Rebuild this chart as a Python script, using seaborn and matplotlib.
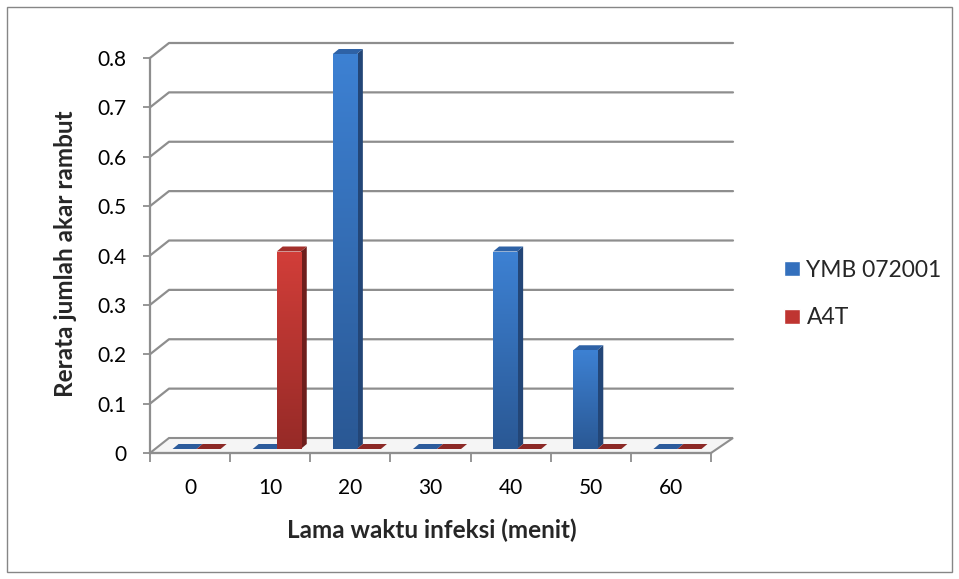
import numpy as np
import pandas as pd
import matplotlib
matplotlib.use("Agg")
import matplotlib.pyplot as plt
import seaborn as sns
from matplotlib.patches import Polygon, Rectangle
from matplotlib.transforms import IdentityTransform, ScaledTranslation
from matplotlib.colors import LinearSegmentedColormap

# ---- data ----
categories = ["0", "10", "20", "30", "40", "50", "60"]
series_names = ["YMB 072001", "A4T"]
ymb_values = [0, 0, 0.8, 0, 0.4, 0.2, 0]
a4t_values = [0, 0.4, 0, 0, 0, 0, 0]
y_ticks = [0, 0.1, 0.2, 0.3, 0.4, 0.5, 0.6, 0.7, 0.8]
y_tick_labels = ["0", "0.1", "0.2", "0.3", "0.4", "0.5", "0.6", "0.7", "0.8"]
x_title = "Lama waktu infeksi (menit)"
y_title = "Rerata jumlah akar rambut"

# ---- style ----
sns.set_theme(style="white")
plt.rcParams["font.family"] = ["Lato", "DejaVu Sans"]

W, H = 959, 579
def fx(px):
    return px / W
def fy(py):
    return 1 - py / H

BLUE = "#3470bd"
RED = "#bf3531"
colors = {
    "YMB 072001": dict(front=("#2a5894", "#3d81d3"), side="#234677", top="#2e62a6", flat="#2d5c9c"),
    "A4T": dict(front=("#962a27", "#d23e39"), side="#6e1e1c", top="#a32f2b", flat="#8c2926"),
}
GRID = "#8e8e8e"
TICK_FS = 15
TITLE_FS = 17.5
LEG_FS = 16.5

fig = plt.figure(figsize=(9.59, 5.79), dpi=100)
ax = fig.add_axes([fx(150), fy(453), 561 / W, (453 - 58) / H])

df = pd.DataFrame({
    "cat": categories * 2,
    "val": ymb_values + a4t_values,
    "series": [series_names[0]] * len(categories) + [series_names[1]] * len(categories),
})
sns.barplot(data=df, x="cat", y="val", hue="series", order=categories,
            hue_order=series_names, palette=[BLUE, RED], width=0.6,
            ax=ax, legend=False, errorbar=None)
ax.set_xlim(-0.5, 6.5)
ax.set_ylim(0, 0.8)
ax.set_xlabel("")
ax.set_ylabel("")

n_cat = len(categories)
seaborn_bars = list(ax.patches)
bar_series = {id(p): (series_names[0] if i < n_cat else series_names[1])
              for i, p in enumerate(seaborn_bars)}
bars = sorted(seaborn_bars, key=lambda p: p.get_x())

ident = IdentityTransform()
T = ax.transData

# back wall / floor geometry (pixels, display coords)
DL = (19, 15)   # depth vector at left
DR = (22, 15)   # depth vector at right
xl, y0 = T.transform((-0.5, 0))
xr, _ = T.transform((6.5, 0))

floor = Polygon([(xl, y0), (xr, y0), (xr + DR[0], y0 + DR[1]), (xl + DL[0], y0 + DL[1])],
                closed=True, transform=ident, facecolor="#f5f5f5", edgecolor=GRID,
                lw=1.5, zorder=1, clip_on=False)
ax.add_patch(floor)

for v in y_ticks[1:]:
    _, yv = T.transform((0, v))
    ax.add_line(plt.Line2D([xl, xl + DL[0], xr + DR[0]], [yv, yv + DL[1], yv + DR[1]],
                           transform=ident, color=GRID, lw=1.6, zorder=1, clip_on=False))

# ---- 3D bars built from seaborn's bars ----
OFF = (6.5, 4.0)
DEP = (6.0, 5.0)
off_tr = T + ScaledTranslation(OFF[0] / 100, OFF[1] / 100, fig.dpi_scale_trans)

z = 5
for p in bars:
    c = colors[bar_series[id(p)]]
    x0, w, h = p.get_x(), p.get_width(), p.get_height()
    X0, Y0 = T.transform((x0, 0))
    X1, Y1 = T.transform((x0 + w, h))
    X0 += OFF[0]; X1 += OFF[0]; Y0 += OFF[1]; Y1 += OFF[1]
    if h <= 0:
        p.set_visible(False)
        ax.add_patch(Polygon([(X0, Y0), (X1, Y0), (X1 + DEP[0], Y0 + DEP[1]), (X0 + DEP[0], Y0 + DEP[1])],
                             transform=ident, facecolor=c["flat"], edgecolor="none",
                             zorder=z, clip_on=False))
        z += 1
        continue
    ax.add_patch(Polygon([(X1, Y0), (X1 + DEP[0], Y0 + DEP[1]), (X1 + DEP[0], Y1 + DEP[1]), (X1, Y1)],
                         transform=ident, facecolor=c["side"], edgecolor="none", zorder=z, clip_on=False))
    ax.add_patch(Polygon([(X0, Y1), (X1, Y1), (X1 + DEP[0], Y1 + DEP[1]), (X0 + DEP[0], Y1 + DEP[1])],
                         transform=ident, facecolor=c["top"], edgecolor="none", zorder=z, clip_on=False))
    p.set_transform(off_tr)
    p.set_zorder(z + 0.5)
    p.set_edgecolor("none")
    p.set_clip_on(False)
    cmap = LinearSegmentedColormap.from_list("g", list(c["front"]))
    im = ax.imshow(np.linspace(1, 0, 256).reshape(-1, 1), cmap=cmap, vmin=0, vmax=1,
                   extent=(x0, x0 + w, 0, h), origin="upper", aspect="auto",
                   interpolation="bilinear", transform=off_tr, zorder=z + 0.6)
    im.set_clip_path(p)
    z += 1

ax.set_xlim(-0.5, 6.5)
ax.set_ylim(0, 0.8)

# ---- axes, ticks ----
for s in ["top", "right"]:
    ax.spines[s].set_visible(False)
for s in ["left", "bottom"]:
    ax.spines[s].set_color(GRID)
    ax.spines[s].set_linewidth(1.6)
    ax.spines[s].set_zorder(2)

ax.set_yticks(y_ticks, y_tick_labels)
ax.tick_params(axis="y", left=True, length=5, width=1.3, color=GRID, pad=12,
               labelsize=TICK_FS, labelcolor="black")
ax.set_xticks(range(n_cat), categories)
ax.set_xticks(np.arange(-0.5, n_cat, 1.0), minor=True)
ax.tick_params(axis="x", which="major", bottom=False, length=0, pad=18,
               labelsize=TICK_FS, labelcolor="black")
ax.tick_params(axis="x", which="minor", bottom=True, length=6.5, width=1.3, color=GRID)

fig.text(fx(432), fy(538), x_title, ha="center", va="baseline",
         fontsize=TITLE_FS, fontweight="bold")
fig.text(fx(66), fy(254), y_title, ha="center", va="center", rotation=90,
         fontsize=TITLE_FS, fontweight="bold")

handles = [Rectangle((0, 0), 1, 1, facecolor=BLUE), Rectangle((0, 0), 1, 1, facecolor=RED)]
fig.legend(handles=handles, labels=series_names, loc="center left",
           bbox_to_anchor=(fx(784), fy(294)), frameon=False, fontsize=LEG_FS,
           handlelength=0.7, handleheight=0.62, handletextpad=0.28,
           labelspacing=1.15, borderpad=0, borderaxespad=0)

fig.add_artist(Rectangle((fx(7), fy(572)), (952 - 7) / W, (572 - 7) / H,
                         transform=fig.transFigure, fill=False, edgecolor="#868686", lw=1))

fig.savefig("out.png", dpi=100)
